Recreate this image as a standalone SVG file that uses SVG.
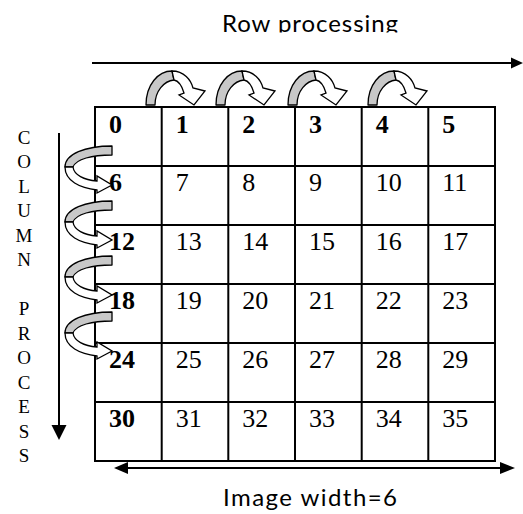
<svg xmlns="http://www.w3.org/2000/svg" width="523" height="514" viewBox="0 0 523 514">
<style>
.grid{fill:none;stroke:#000;stroke-width:2}
.n{font-family:"Liberation Serif","Times New Roman",serif;font-size:26px;fill:#000}
.b{font-weight:bold}
.lbl{font-family:Lato,"Open Sans","Liberation Sans",sans-serif;font-size:24px;fill:#000}
.v{font-family:"Liberation Serif","Times New Roman",serif;font-size:19px;fill:#000;text-anchor:middle}
.ln{stroke:#000;stroke-width:2;fill:none}
.gr{fill:#c8c8c8;stroke:#000;stroke-width:1.3;stroke-linejoin:round}
.wh{fill:#fff;stroke:#000;stroke-width:1.3;stroke-linejoin:miter}
</style>
<defs>
<clipPath id="clipTop"><rect x="0" y="0" width="523" height="32.5"/></clipPath>
<g id="ra">
<path class="gr" d="M146,105 C146,85 158,71 172,71 L174,80 C164,81 155,91 155,105 Z"/>
<path class="wh" d="M172,71 C184,71 191,80 193,88 L205,91 L194,105 L179,95 L184,93 C182,86 179,81 174,80 Z"/>
</g>
<g id="ca">
<path class="gr" d="M112,146 L112,155 C92,155 76,159 73,167 L65,167 C65,154 85,146 112,146 Z"/>
<path class="wh" d="M65,167 C65,181 80,188 97,190 L97,193 L112,185 L97,176 L97,181 C84,180 74,175 73,167 Z"/>
</g>
</defs>

<g id="title-row">
<text class="lbl" x="222" y="31.5" textLength="176" lengthAdjust="spacing" clip-path="url(#clipTop)">Row processing</text>
</g>
<g id="title-width">
<text class="lbl" x="223" y="506" textLength="174" lengthAdjust="spacing">Image width=6</text>
</g>
<g id="title-column">
<text class="v" x="24" y="143.5">C</text>
<text class="v" x="24" y="168">O</text>
<text class="v" x="24" y="192.5">L</text>
<text class="v" x="24" y="217">U</text>
<text class="v" x="24" y="241.5">M</text>
<text class="v" x="24" y="266">N</text>
<text class="v" x="24" y="315">P</text>
<text class="v" x="24" y="339.5">R</text>
<text class="v" x="24" y="364">O</text>
<text class="v" x="24" y="388.5">C</text>
<text class="v" x="24" y="413">E</text>
<text class="v" x="24" y="437.5">S</text>
<text class="v" x="24" y="462">S</text>
</g>

<g id="grid">
<rect class="grid" x="95" y="107" width="400" height="354"/>
<path class="grid" d="M161.7,107V461M228.3,107V461M295,107V461M361.7,107V461M428.3,107V461M95,166H495M95,225H495M95,284H495M95,343H495M95,402H495"/>
</g>

<g id="cells">
<text class="n b" x="109" y="133">0</text>
<text class="n b" x="175.7" y="133">1</text>
<text class="n b" x="242.3" y="133">2</text>
<text class="n b" x="309" y="133">3</text>
<text class="n b" x="375.7" y="133">4</text>
<text class="n b" x="442.3" y="133">5</text>

<text class="n b" x="109" y="191">6</text>
<text class="n" x="175.7" y="191">7</text>
<text class="n" x="242.3" y="191">8</text>
<text class="n" x="309" y="191">9</text>
<text class="n" x="375.7" y="191">10</text>
<text class="n" x="442.3" y="191">11</text>

<text class="n b" x="109" y="250">12</text>
<text class="n" x="175.7" y="250">13</text>
<text class="n" x="242.3" y="250">14</text>
<text class="n" x="309" y="250">15</text>
<text class="n" x="375.7" y="250">16</text>
<text class="n" x="442.3" y="250">17</text>

<text class="n b" x="109" y="309">18</text>
<text class="n" x="175.7" y="309">19</text>
<text class="n" x="242.3" y="309">20</text>
<text class="n" x="309" y="309">21</text>
<text class="n" x="375.7" y="309">22</text>
<text class="n" x="442.3" y="309">23</text>

<text class="n b" x="109" y="368">24</text>
<text class="n" x="175.7" y="368">25</text>
<text class="n" x="242.3" y="368">26</text>
<text class="n" x="309" y="368">27</text>
<text class="n" x="375.7" y="368">28</text>
<text class="n" x="442.3" y="368">29</text>

<text class="n b" x="109" y="427">30</text>
<text class="n" x="175.7" y="427">31</text>
<text class="n" x="242.3" y="427">32</text>
<text class="n" x="309" y="427">33</text>
<text class="n" x="375.7" y="427">34</text>
<text class="n" x="442.3" y="427">35</text>
</g>

<g id="connectors">
<line class="ln" x1="92" y1="63" x2="513" y2="63"/>
<polygon points="511,57.5 523,63 511,68.5" fill="#000"/>
<line class="ln" x1="59" y1="133" x2="59" y2="427"/>
<polygon points="51.5,425 66.5,425 59,440" fill="#000"/>
<line class="ln" x1="126" y1="468" x2="502" y2="468"/>
<polygon points="128,462 114,468 128,474" fill="#000"/>
<polygon points="500,462 515,468 500,474" fill="#000"/>
<use href="#ra"/>
<use href="#ra" transform="translate(70,0)"/>
<use href="#ra" transform="translate(142,0)"/>
<use href="#ra" transform="translate(222,0)"/>
<use href="#ca"/>
<use href="#ca" transform="translate(0,55)"/>
<use href="#ca" transform="translate(0,110)"/>
<use href="#ca" transform="translate(0,166)"/>
</g>
</svg>
